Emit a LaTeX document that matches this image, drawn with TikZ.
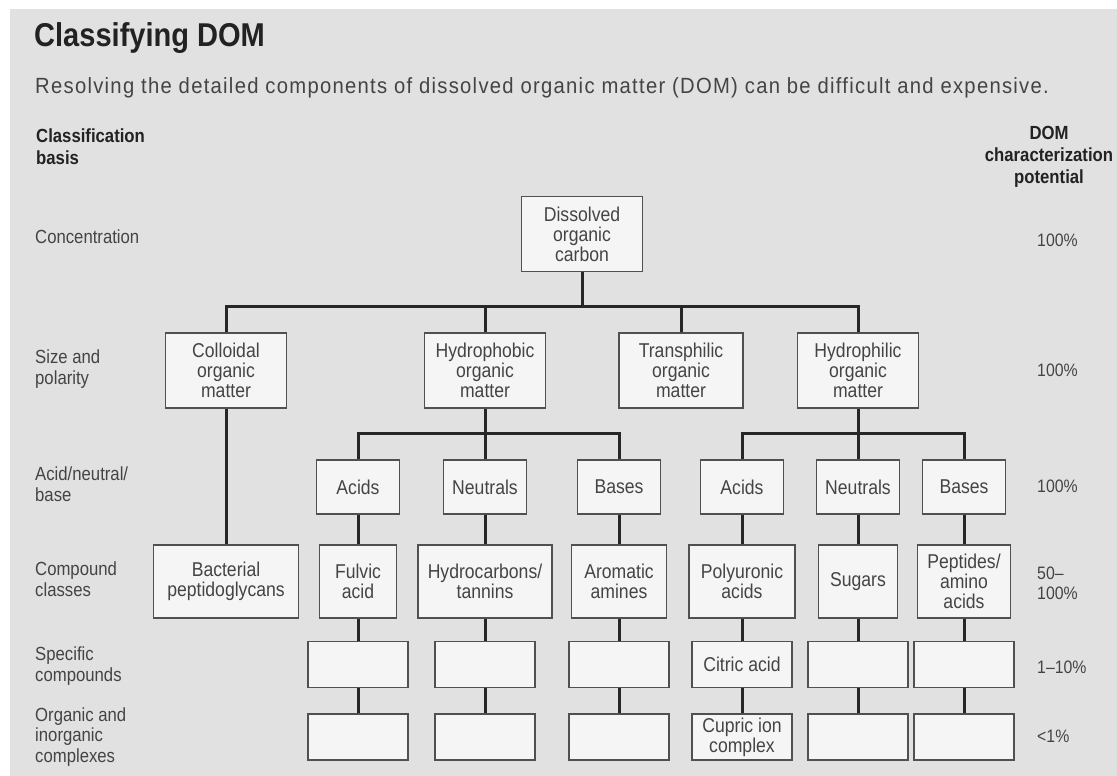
\documentclass[tikz,border=0pt]{standalone}
\usepackage{fontspec}
\setmainfont{Liberation Sans}[FakeStretch=0.88]
\newfontfamily\subfont{Liberation Sans}[FakeStretch=0.92, LetterSpace=5.8]
\usepackage{tikz}

\definecolor{bg}{HTML}{E1E1E1}
\definecolor{boxfill}{HTML}{F5F5F5}
\definecolor{boxline}{HTML}{505050}
\definecolor{connline}{HTML}{262626}
\definecolor{inktext}{HTML}{444444}
\definecolor{headink}{HTML}{222222}

\begin{document}
\begin{tikzpicture}[x=1pt, y=-1pt,
  box/.style={draw=boxline, line width=1.7pt, fill=boxfill, align=center,
              text=inktext, inner sep=0pt, font=\fontsize{20}{20}\selectfont},
  lvtwo/.style={box, minimum width=121, minimum height=75},
  lvthree/.style={box, minimum width=83, minimum height=54},
  lvfour/.style={box, minimum height=73},
  lvfive/.style={box, minimum width=100, minimum height=46},
  conn/.style={draw=connline, line width=3pt},
  rowlbl/.style={anchor=west, align=left, inner sep=0pt, text=inktext,
                 font=\fontsize{19}{21}\selectfont},
  potval/.style={anchor=west, align=left, inner sep=0pt, text=inktext,
                 font=\fontsize{18}{20}\selectfont},
  colhead/.style={inner sep=0pt, text=headink,
                  font=\bfseries\fontsize{19}{22}\selectfont}
]
  \useasboundingbox (0,0) rectangle (1117,776);
  \fill[bg] (10,9) rectangle (1117,776);

  % ========== TITLE ==========
  \node[anchor=base west, inner sep=0pt, text=headink,
        font=\bfseries\fontsize{33}{33}\selectfont] (title) at (34, 47)
    {Classifying DOM};
  \node[anchor=base west, inner sep=0pt, text=inktext,
        font=\subfont\fontsize{22}{22}\selectfont] (subtitle) at (35, 93)
    {Resolving the detailed components of dissolved organic matter (DOM) can be difficult and expensive.};

  % ========== COLUMN HEADS ==========
  \node[colhead, anchor=west, align=left] (basis) at (36, 147)
    {Classification\\basis};
  \node[colhead, align=center] (potential) at (1049, 157)
    {DOM\\characterization\\potential};

  % ========== ROW LABELS ==========
  \node[rowlbl] (rconc) at (35, 237) {Concentration};
  \node[rowlbl] (rsize) at (35, 369) {Size and\\polarity};
  \node[rowlbl] (racid) at (35, 484) {Acid/neutral/\\base};
  \node[rowlbl] (rclass) at (35, 579) {Compound\\classes};
  \node[rowlbl] (rspec) at (35, 666) {Specific\\compounds};
  \node[rowlbl, font=\fontsize{19}{20.5}\selectfont] (rcplx) at (35, 737)
    {Organic and\\inorganic\\complexes};

  % ========== POTENTIAL VALUES ==========
  \node[potval] (pconc) at (1037, 240) {100\%};
  \node[potval] (psize) at (1037, 370) {100\%};
  \node[potval] (pacid) at (1037, 486) {100\%};
  \node[potval] (pclass) at (1037, 583) {50\textendash\\100\%};
  \node[potval] (pspec) at (1037, 667) {1\textendash10\%};
  \node[potval] (pcplx) at (1037, 736) {<1\%};

  % ========== LEVEL 1 ==========
  \node[box, minimum width=121, minimum height=75] (doc) at (582, 234)
    {Dissolved\\organic\\carbon};

  % ========== LEVEL 2 ==========
  \node[lvtwo] (colloid) at (226, 370.5) {Colloidal\\organic\\matter};
  \node[lvtwo] (hphob) at (485, 370.5) {Hydrophobic\\organic\\matter};
  \node[lvtwo, minimum width=124] (trans) at (681, 370.5) {Transphilic\\organic\\matter};
  \node[lvtwo] (hphil) at (858, 370.5) {Hydrophilic\\organic\\matter};

  % ========== LEVEL 3 ==========
  \node[lvthree] (phobacid) at (358, 487) {Acids};
  \node[lvthree] (phobneut) at (485, 487) {Neutrals};
  \node[lvthree] (phobbase) at (619, 487) {Bases};
  \node[lvthree] (philacid) at (742, 487) {Acids};
  \node[lvthree] (philneut) at (858, 487) {Neutrals};
  \node[lvthree] (philbase) at (964, 487) {Bases};

  % ========== LEVEL 4 ==========
  \node[lvfour, minimum width=145] (bact) at (226, 581.5) {Bacterial\\peptidoglycans};
  \node[lvfour, minimum width=77] (fulvic) at (358, 581.5) {Fulvic\\acid};
  \node[lvfour, minimum width=134] (hydrocarb) at (485, 581.5) {Hydrocarbons/\\tannins};
  \node[lvfour, minimum width=95] (aromatic) at (619, 581.5) {Aromatic\\amines};
  \node[lvfour, minimum width=106] (polyuronic) at (742, 581.5) {Polyuronic\\acids};
  \node[lvfour, minimum width=79] (sugars) at (858, 581.5) {Sugars};
  \node[lvfour, minimum width=93] (peptides) at (964, 581.5) {Peptides/\\amino\\acids};

  % ========== LEVEL 5: specific compounds ==========
  \node[lvfive] (spec1) at (358, 664.5) {};
  \node[lvfive] (spec2) at (485, 664.5) {};
  \node[lvfive] (spec3) at (619, 664.5) {};
  \node[lvfive] (spec4) at (742, 664.5) {Citric acid};
  \node[lvfive] (spec5) at (858, 664.5) {};
  \node[lvfive] (spec6) at (964, 664.5) {};

  % ========== LEVEL 6: complexes ==========
  \node[lvfive] (cplx1) at (358, 737) {};
  \node[lvfive] (cplx2) at (485, 737) {};
  \node[lvfive] (cplx3) at (619, 737) {};
  \node[lvfive] (cplx4) at (742, 737) {Cupric ion\\complex};
  \node[lvfive] (cplx5) at (858, 737) {};
  \node[lvfive] (cplx6) at (964, 737) {};

  % ======== CONNECTORS: buses ========
  \coordinate (busone) at (0, 306);
  \coordinate (bustwo) at (0, 433);

  \draw[conn] (doc) -- (doc |- busone);
  \draw[conn] (colloid) -- (colloid |- busone) -| (hphil);
  \draw[conn] (hphob) -- (hphob |- busone);
  \draw[conn] (trans) -- (trans |- busone);

  \draw[conn] (hphob) -- (hphob |- bustwo);
  \draw[conn] (phobacid) -- (phobacid |- bustwo) -| (phobbase);
  \draw[conn] (phobneut) -- (phobneut |- bustwo);

  \draw[conn] (hphil) -- (hphil |- bustwo);
  \draw[conn] (philacid) -- (philacid |- bustwo) -| (philbase);
  \draw[conn] (philneut) -- (philneut |- bustwo);

  % ======== CONNECTORS: columns ========
  \draw[conn] (colloid) -- (bact);
  \foreach \up/\down in {phobacid/fulvic, phobneut/hydrocarb, phobbase/aromatic,
                         philacid/polyuronic, philneut/sugars, philbase/peptides,
                         fulvic/spec1, hydrocarb/spec2, aromatic/spec3,
                         polyuronic/spec4, sugars/spec5, peptides/spec6,
                         spec1/cplx1, spec2/cplx2, spec3/cplx3,
                         spec4/cplx4, spec5/cplx5, spec6/cplx6}
    \draw[conn] (\up) -- (\down);

\end{tikzpicture}
\end{document}
